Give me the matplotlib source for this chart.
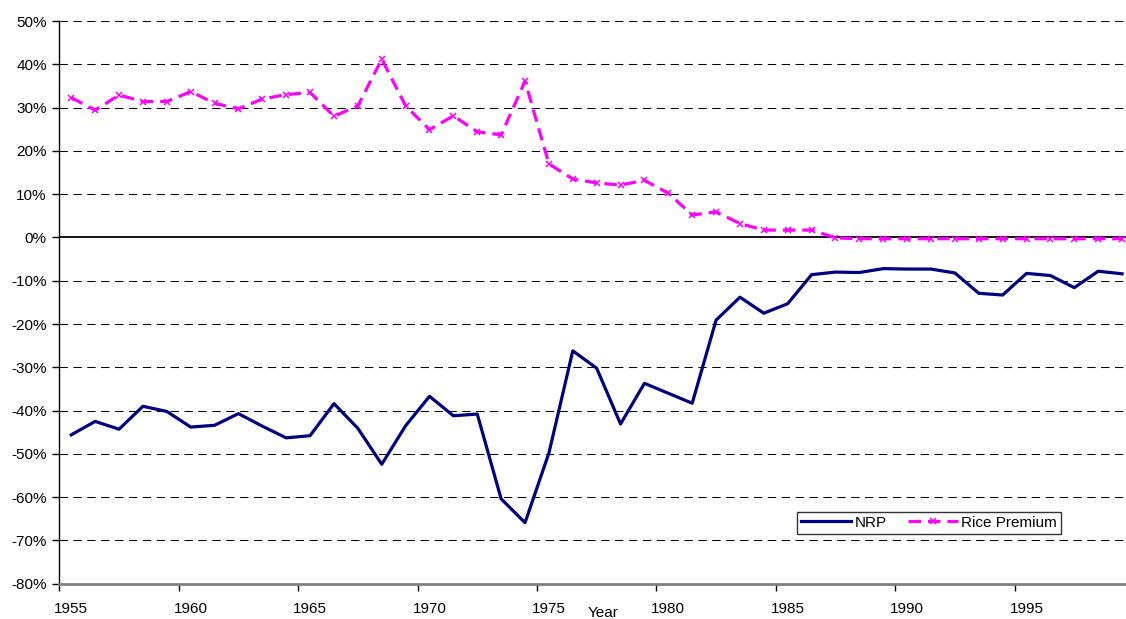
import matplotlib
matplotlib.use('Agg')
import matplotlib.pyplot as plt
from matplotlib.ticker import FuncFormatter, FixedLocator

plt.rcParams['font.family'] = ['Liberation Sans', 'DejaVu Sans']
plt.rcParams['lines.scale_dashes'] = False

years = list(range(1955, 2000))
# NRP in %
nrp = [-45.6, -42.5, -44.3, -39.0, -40.2, -43.8, -43.4, -40.7, -43.6, -46.3,
       -45.8, -38.4, -44.1, -52.4, -43.5, -36.7, -41.2, -40.8, -60.4, -65.9,
       -49.8, -26.2, -30.2, -43.1, -33.7, -36.0, -38.3, -19.1, -13.8, -17.5,
       -15.3, -8.6, -8.0, -8.1, -7.2, -7.3, -7.3, -8.2, -12.9, -13.3,
       -8.3, -8.8, -11.6, -7.8, -8.4]
# Rice premium in %
rice = [32.3, 29.4, 32.9, 31.4, 31.4, 33.7, 31.0, 29.7, 32.0, 33.0,
        33.5, 28.0, 30.4, 41.2, 30.4, 24.9, 28.1, 24.4, 23.7, 36.1,
        17.0, 13.5, 12.6, 12.1, 13.2, 10.2, 5.2, 5.9, 3.2, 1.7,
        1.7, 1.7, -0.1, -0.3, -0.3, -0.3, -0.3, -0.3, -0.3, -0.3,
        -0.3, -0.3, -0.3, -0.3, -0.3]
y_ticks = list(range(-80, 51, 10))
x_labels = [1955, 1960, 1965, 1970, 1975, 1980, 1985, 1990, 1995]

fig = plt.figure(figsize=(11.26, 6.19), dpi=100)
ax = fig.add_axes([0.0527, 0.0570, 0.9544, 0.909])

# gridlines
for v in y_ticks[1:]:
    if v == 0:
        continue
    ax.axhline(v, color='black', lw=0.75, ls=(0, (6, 4)), zorder=1)
ax.axhline(0, color='black', lw=1.3, zorder=2)

ax.plot(years, nrp, color='#000080', lw=2.3, label='NRP', zorder=4)
ax.plot(years, rice, color='#FF00FF', lw=2.3, ls=(0, (9, 5)), marker='x',
        markersize=5, markeredgewidth=1.1, label='Rice Premium', zorder=3)

ax.set_xlim(1954.5, 1999.5)
ax.set_ylim(-80, 50)

ax.yaxis.set_major_locator(FixedLocator(y_ticks))
ax.yaxis.set_major_formatter(FuncFormatter(lambda v, p: '%d%%' % v))
ax.xaxis.set_major_locator(FixedLocator([y - 0.5 for y in x_labels] + [1999.5]))
ax.xaxis.set_major_formatter(FuncFormatter(lambda v, p: ''))
ax.xaxis.set_minor_locator(FixedLocator(x_labels))
ax.xaxis.set_minor_formatter(FuncFormatter(lambda v, p: '%d' % v))
ax.tick_params(axis='x', which='major', direction='out', length=5, width=1, color='black')
ax.tick_params(axis='x', which='minor', length=0, pad=13, labelsize=11)
ax.tick_params(axis='y', direction='out', length=5, width=1, pad=4, labelsize=11)

for s in ['top', 'right']:
    ax.spines[s].set_visible(False)
ax.spines['left'].set_color('black')
ax.spines['left'].set_linewidth(1)
ax.spines['bottom'].set_color('#808080')
ax.spines['bottom'].set_linewidth(2)

fig.text(603 / 1126, 1 - 613 / 619, 'Year', ha='center', va='center', fontsize=11)

leg = ax.legend(loc='upper left', bbox_to_anchor=(797 / 1126, 1 - 512 / 619),
                bbox_transform=fig.transFigure, ncol=2, frameon=True, fancybox=False,
                fontsize=11, handlelength=3.3, handletextpad=0.2, columnspacing=1.4,
                borderpad=0.25, borderaxespad=0)
leg.get_frame().set_edgecolor('black')
leg.get_frame().set_linewidth(1)

plt.savefig('out.png', dpi=100)
